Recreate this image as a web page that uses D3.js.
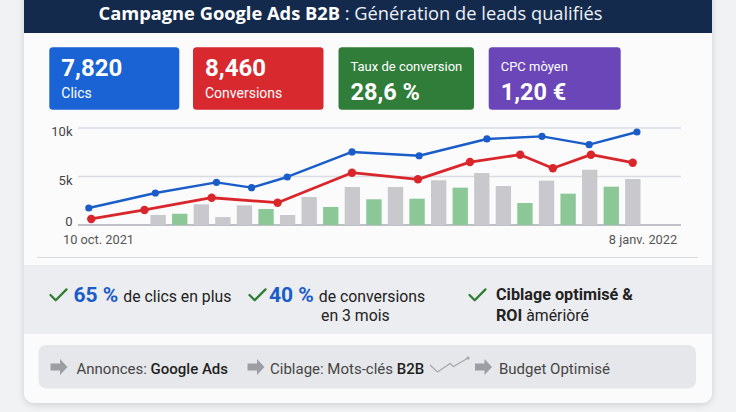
<!DOCTYPE html>
<html>
<head>
<meta charset="utf-8">
<script src="https://cdn.jsdelivr.net/npm/d3@7"></script>
<style>
  body { margin: 0; background: #f1f2f4; }
  svg { display: block; }
  text { font-family: Roboto, "Noto Sans", sans-serif; }
</style>
</head>
<body>
<svg id="chart" width="736" height="412"></svg>
<script>
// ---- data ----
const kpiValues = ['7,820', '8,460', '28,6 %', '1,20 €']
const kpiLabels = ['Clics', 'Conversions', 'Taux de conversion', 'CPC mòyen']

// days counted from 10 oct. 2021
const clickDays = [-1.6, 9.4, 19.5, 25.3, 31.2, 41.9, 53, 64.2, 73.3, 81.1, 89]
const clicks = [1750, 3300, 4400, 3850, 4950, 7530, 7140, 8870, 9140, 8280, 9590]
const convDays = [-1.2, 7.6, 18.7, 29.6, 41.9, 52.8, 61.4, 69.7, 75.1, 81.4, 88.3]
const conversions = [620, 1550, 2810, 2300, 5390, 4710, 6490, 7250, 5850, 7250, 6420]

const barValues = [1030, 1160, 2130, 820, 2030, 1650, 1030, 2890, 1860, 3920, 2650, 3920,
    2710, 4610, 3850, 5360, 4020, 2270, 4570, 3230, 5700, 3950, 4740]
const barKinds = ['a', 'b', 'a', 'a', 'a', 'b', 'a', 'a', 'b', 'a', 'b', 'a',
    'b', 'a', 'b', 'a', 'a', 'b', 'a', 'b', 'a', 'b', 'a']

const yTicks = [0, 5000, 10000]
const xTickDays = [0, 90]
const xTickLabels = ['10 oct. 2021', '8 janv. 2022']

const highlights = [
    {bold: '65 %', rest: ['de clics en plus']},
    {bold: '40 %', rest: ['de conversions', 'en 3 mois']},
    {bold: 'Ciblage optimisé &', rest: ['ROI', 'àmériòré']}
]
const steps = [
    {label: 'Annonces: ', strong: 'Google Ads'},
    {label: 'Ciblage: Mots-clés ', strong: 'B2B'},
    {label: 'Budget Optimisé', strong: ''}
]

// ---- drawing ----
let svg = d3.select('#chart')

let defs = svg.append('defs')
defs.append('filter').attr('id', 'shadow')
    .attr('x', '-5%').attr('y', '-5%').attr('width', '110%').attr('height', '115%')
    .append('feDropShadow')
    .attr('dx', 0).attr('dy', 2).attr('stdDeviation', 3)
    .attr('flood-color', '#000').attr('flood-opacity', 0.14)

// card + header
svg.append('rect')
    .attr('x', 24).attr('y', -14).attr('width', 688).attr('height', 417)
    .attr('rx', 10).attr('fill', '#fbfbfc').attr('filter', 'url(#shadow)')
svg.append('rect')
    .attr('x', 24).attr('y', 0).attr('width', 688).attr('height', 33)
    .attr('fill', '#132a4d')

let title = svg.append('text')
    .attr('x', 98.5).attr('y', 20)
    .attr('fill', '#fff')
    .style('font-family', '"Open Sans", sans-serif')
    .style('font-size', '18.3px')
title.append('tspan').attr('font-weight', 700).text('Campagne Google Ads B2B')
title.append('tspan').attr('font-weight', 400).attr('fill', '#eef1f6').text(' : Génération de leads qualifiés')

// KPI cards
let cardBox = [{x: 49.3, w: 130}, {x: 193, w: 130.5}, {x: 338.5, w: 135.5}, {x: 488.7, w: 132}]
let cardColors = ['#1a63d5', '#d8292f', '#2f7d39', '#6a46b8']

let cards = svg.selectAll('.kpi')
    .data(kpiValues)
    .enter()
    .append('g')
    .attr('class', 'kpi')
    .attr('transform', (d, i) => 'translate(' + cardBox[i].x + ',47.3)')

cards.append('rect')
    .attr('width', (d, i) => cardBox[i].w)
    .attr('height', 62.4)
    .attr('rx', 3.5)
    .attr('fill', (d, i) => cardColors[i])

cards.append('text')
    .attr('x', 12)
    .attr('y', (d, i) => i < 2 ? 29 : 53)
    .attr('fill', '#fff')
    .attr('font-weight', 700)
    .style('font-size', (d, i) => i < 2 ? '24px' : '23.5px')
    .text(d => d)

cards.append('text')
    .attr('x', 12)
    .attr('y', (d, i) => i < 2 ? 50.5 : 23.5)
    .attr('fill', '#fff')
    .style('font-size', (d, i) => i < 2 ? '14px' : '13px')
    .text((d, i) => kpiLabels[i])

// chart
let y = d3.scaleLinear().domain([0, 10000]).range([225, 128])
let x = d3.scaleLinear().domain([0, 90]).range([98.5, 643])
let xb = d3.scaleBand()
    .domain(barValues.map((d, i) => i))
    .range([150.5, 640.5])
    .paddingInner(0.29)
    .paddingOuter(0)

svg.append('g').selectAll('line')
    .data(yTicks)
    .enter()
    .append('line')
    .attr('x1', 78).attr('x2', 681)
    .attr('y1', d => y(d)).attr('y2', d => y(d))
    .attr('stroke', d => d === 0 ? '#a9adb4' : '#d9dce2')
    .attr('stroke-width', 1.3)

svg.append('g').selectAll('text')
    .data(yTicks)
    .enter()
    .append('text')
    .attr('x', 72.5)
    .attr('y', d => y(d) + (d === 0 ? 1 : 8))
    .attr('text-anchor', 'end')
    .attr('fill', '#444')
    .style('font-size', '13px')
    .text(d => d === 0 ? '0' : d3.format('~s')(d))

svg.append('g').selectAll('text')
    .data(xTickDays)
    .enter()
    .append('text')
    .attr('x', d => x(d))
    .attr('y', 243.5)
    .attr('text-anchor', 'middle')
    .attr('fill', '#555')
    .style('font-size', '12.8px')
    .text((d, i) => xTickLabels[i])

svg.append('g').selectAll('rect')
    .data(barValues)
    .enter()
    .append('rect')
    .attr('x', (d, i) => xb(i))
    .attr('y', d => y(d))
    .attr('width', xb.bandwidth())
    .attr('height', d => y(0) - y(d))
    .attr('fill', (d, i) => barKinds[i] === 'a' ? '#c8c8cd' : '#8bc797')

let series = [
    {days: clickDays, vals: clicks, color: '#1a5cc8', w: 2.4, r: 3.6},
    {days: convDays, vals: conversions, color: '#d9262b', w: 2.8, r: 4.2}
]
let line = d3.line().x(d => x(d[0])).y(d => y(d[1]))

series.forEach(function (s) {
    let pts = s.days.map((d, i) => [d, s.vals[i]])
    svg.append('path')
        .datum(pts)
        .attr('d', line)
        .attr('fill', 'none')
        .attr('stroke', s.color)
        .attr('stroke-width', s.w)
        .attr('stroke-linejoin', 'round')
    svg.append('g').selectAll('circle')
        .data(pts)
        .enter()
        .append('circle')
        .attr('cx', d => x(d[0]))
        .attr('cy', d => y(d[1]))
        .attr('r', s.r)
        .attr('fill', s.color)
})

// separator + highlight band
svg.append('line')
    .attr('x1', 37).attr('x2', 698).attr('y1', 257.5).attr('y2', 257.5)
    .attr('stroke', '#d6d9df').attr('stroke-width', 1)
svg.append('rect')
    .attr('x', 24).attr('y', 265).attr('width', 688).attr('height', 69)
    .attr('fill', '#ecedf0')

let checkX = [50.5, 249.5, 469.5]
let boldX = [73.5, 269, 496]

highlights.forEach(function (h, i) {
    svg.append('path')
        .attr('d', 'M' + checkX[i] + ',295 l5.2,5.2 l10.8,-10.8')
        .attr('fill', 'none')
        .attr('stroke', '#2e7d32')
        .attr('stroke-width', 2.3)
        .attr('stroke-linecap', 'round')
        .attr('stroke-linejoin', 'round')
    if (i < 2) {
        let t = svg.append('text')
            .attr('x', boldX[i]).attr('y', 301.5)
        t.append('tspan')
            .attr('fill', '#1a5cc8').attr('font-weight', 700)
            .style('font-size', '21px')
            .text(h.bold)
        t.append('tspan')
            .attr('dx', 5)
            .attr('fill', '#222')
            .style('font-size', '15.8px')
            .text(h.rest[0])
        if (h.rest[1]) {
            svg.append('text')
                .attr('x', boldX[i] + 52).attr('y', 320.5)
                .attr('fill', '#222')
                .style('font-size', '15.8px')
                .text(h.rest[1])
        }
    } else {
        svg.append('text')
            .attr('x', boldX[i]).attr('y', 300)
            .attr('fill', '#222').attr('font-weight', 700)
            .style('font-size', '16.2px')
            .text(h.bold)
        let t2 = svg.append('text')
            .attr('x', boldX[i]).attr('y', 320.5)
            .attr('fill', '#222')
            .style('font-size', '16.2px')
        t2.append('tspan').attr('font-weight', 700).text(h.rest[0])
        t2.append('tspan').attr('dx', 4).style('font-size', '15.8px').text(h.rest[1])
    }
})

// bottom process bar
svg.append('rect')
    .attr('x', 38.5).attr('y', 345).attr('width', 657.5).attr('height', 43.5)
    .attr('rx', 8).attr('fill', '#e6e7ea')

let arrowX = [50.5, 247.5, 475]
let textX = [76.5, 270, 499]

steps.forEach(function (s, i) {
    let ax = arrowX[i]
    svg.append('path')
        .attr('d', 'M' + ax + ',363.5 h9.5 v-4.5 l7.5,8 l-7.5,8 v-4.5 h-9.5 z')
        .attr('fill', '#9c9ea3')
    let t = svg.append('text')
        .attr('x', textX[i]).attr('y', 373.5)
        .style('font-size', '15px')
    t.append('tspan').attr('fill', '#454545').text(s.label)
    if (s.strong) {
        t.append('tspan').attr('fill', '#1f1f1f').attr('font-weight', 500).text(s.strong)
    }
})

// little trend glyph between the second and third step
let spark = [[430, 365], [437.5, 372], [450, 363.5], [453.5, 366.5], [468, 358]]
svg.append('path')
    .attr('d', d3.line()(spark))
    .attr('fill', 'none')
    .attr('stroke', '#a3a5a9')
    .attr('stroke-width', 1.1)
svg.append('circle')
    .attr('cx', 468).attr('cy', 358).attr('r', 1.6)
    .attr('fill', '#a3a5a9')
</script>
</body>
</html>
